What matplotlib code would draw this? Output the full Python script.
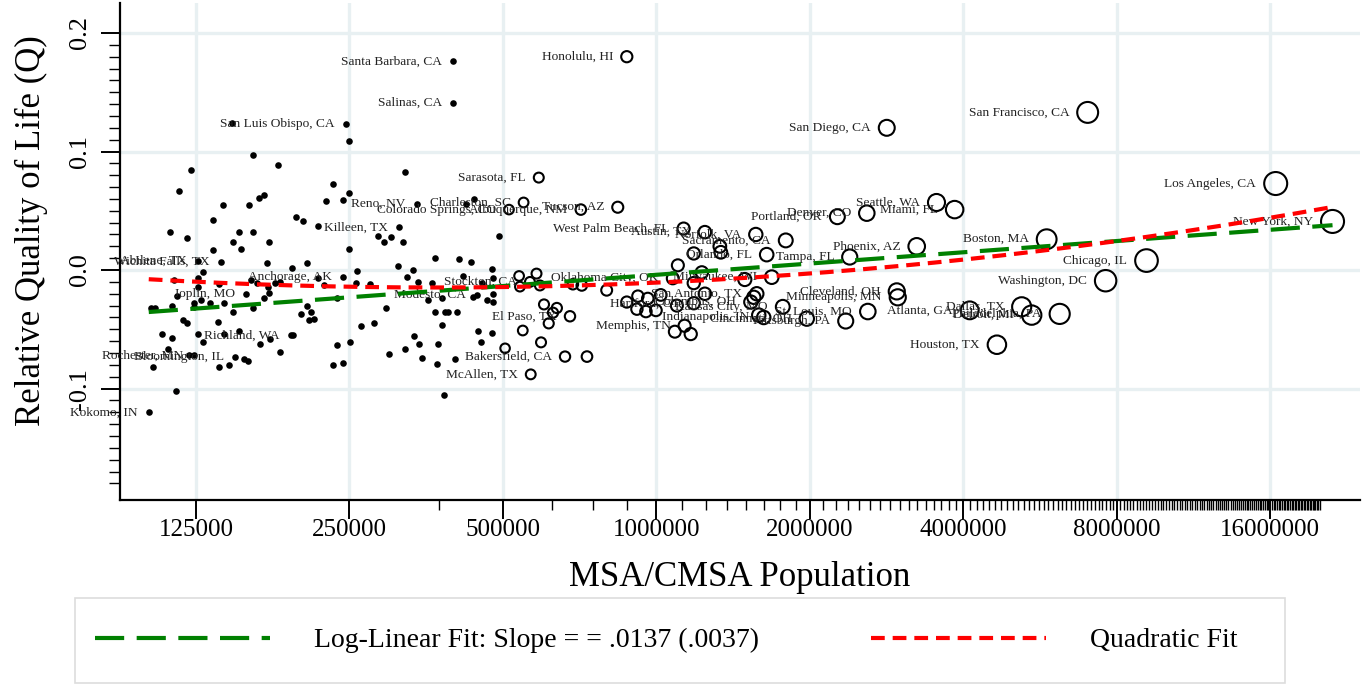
import numpy as np
import matplotlib
matplotlib.use("Agg")
import matplotlib.pyplot as plt
from matplotlib.lines import Line2D
from matplotlib.patches import Rectangle
from matplotlib.ticker import NullFormatter

plt.rcParams['font.family'] = ['Liberation Serif', 'DejaVu Serif']

# unlabeled metro areas: population (thousands), relative quality of life
other_pop = [103, 102, 104, 107, 110, 111, 112, 112, 113, 114, 115, 116, 118, 120, 120, 121, 122,
             124, 124, 126, 126, 126, 128, 129, 129, 133, 135, 135, 138, 139, 139, 141, 142, 142,
             145, 147, 148, 148, 152, 152, 153, 155, 158, 159, 160, 162, 162, 162, 165, 166, 167,
             170, 170, 172, 173, 174, 174, 175, 179, 181, 183, 183, 193, 194, 196, 201, 203, 206,
             206, 208, 210, 213, 217, 217, 223, 225, 232, 232, 236, 236, 243, 243, 249, 250, 250,
             251, 258, 259, 263, 274, 279, 284, 292, 295, 299, 302, 311, 318, 321, 321, 324, 333,
             334, 341, 342, 347, 356, 363, 368, 368, 372, 373, 380, 380, 383, 385, 390, 402, 406,
             410, 417, 423, 433, 437, 439, 447, 453, 455, 465, 478, 478, 476, 478, 476, 491,
             505, 538, 540, 547, 582, 591, 594, 602, 615, 627, 638, 686, 714, 731, 799, 875, 916,
             920, 954, 962, 998, 1020, 1087, 1097, 1102, 1168, 1184, 1184, 1228, 1245, 1332, 1338,
             1491, 1553, 1588]
other_q = [-0.082, -0.032, -0.032, -0.054, -0.067, 0.032, -0.030, -0.057, -0.008, -0.102, -0.022,
           0.067, -0.042, -0.045, 0.027, -0.072, 0.084, -0.028, -0.031, -0.054, -0.007, -0.014,
           -0.025, -0.002, -0.061, -0.028, 0.042, 0.017, -0.044, -0.082, -0.012, 0.055, -0.028,
           -0.054, -0.080, 0.124, -0.035, 0.024, 0.032, -0.051, 0.018, -0.075, -0.077, 0.055,
           -0.008, 0.097, -0.032, 0.032, -0.011, 0.061, -0.062, 0.063, -0.024, 0.006, -0.014,
           0.024, -0.019, -0.058, -0.011, 0.089, -0.010, -0.069, 0.002, -0.055, 0.045, -0.037,
           0.041, 0.006, -0.030, -0.042, -0.035, -0.041, -0.007, 0.037, -0.013, 0.058, 0.073,
           -0.080, -0.024, -0.063, 0.059, -0.078, 0.018, 0.109, 0.065, -0.061, -0.011, -0.001,
           -0.047, -0.012, -0.045, 0.029, 0.024, -0.032, -0.071, 0.028, 0.003, 0.024, 0.083,
           -0.067, -0.006, 0.000, -0.056, -0.010, -0.062, -0.074, -0.025, -0.011, 0.010, -0.035,
           -0.079, -0.062, -0.024, -0.046, -0.105, -0.035, -0.035, -0.075, -0.035, 0.009, -0.005,
           0.056, 0.007, -0.023, 0.060, -0.051, -0.061, -0.011, -0.025, -0.027, -0.020, 0.001,
           -0.007, -0.053, 0.029,
           -0.066, -0.005, -0.014, -0.051, -0.003, -0.013, -0.061, -0.029, -0.045, -0.036, -0.032,
           -0.012, -0.013, -0.073, -0.017, -0.027, -0.033, -0.022, -0.035, -0.024, -0.034, -0.021,
           -0.052, -0.030, 0.004, -0.054, 0.014, -0.011, -0.002, -0.020, 0.020, 0.015, -0.008,
           -0.023, -0.038]

# labeled metro areas
city_names = ["Kokomo, IN", "Rochester, MN", "Abilene, TX", "Wichita Falls, TX", "Bloomington, IL",
              "Joplin, MO", "Richland, WA", "Anchorage, AK", "San Luis Obispo, CA", "Killeen, TX",
              "Reno, NV", "Santa Barbara, CA", "Salinas, CA", "Modesto, CA", "Colorado Springs, CO",
              "Charleston, SC", "Stockton, CA", "McAllen, TX", "Sarasota, FL", "Bakersfield, CA",
              "El Paso, TX", "Albuquerque, NM", "Tucson, AZ", "Honolulu, HI", "Oklahoma City, OK",
              "West Palm Beach, FL", "Memphis, TN", "Hartford, CT", "Austin, TX", "Columbus, OH",
              "Norfolk, VA", "San Antonio, TX", "Indianapolis, IN", "Orlando, FL", "Milwaukee, WI",
              "Kansas City, MO", "Sacramento, CA", "Cincinnati, OH", "Portland, OR", "Pittsburgh, PA",
              "Tampa, FL", "Denver, CO", "St. Louis, MO", "San Diego, CA", "Cleveland, OH",
              "Minneapolis, MN", "Phoenix, AZ", "Seattle, WA", "Miami, FL", "Atlanta, GA",
              "Houston, TX", "Dallas, TX", "Detroit, MI", "Boston, MA", "Philadelphia, PA",
              "San Francisco, CA", "Washington, DC", "Chicago, IL", "Los Angeles, CA", "New York, NY"]
city_pop = [101, 124, 126, 140, 149, 157, 192, 243, 246, 313, 339, 399, 400, 445, 514, 549, 565,
            567, 588, 662, 677, 711, 840, 875, 1077, 1131, 1136, 1184, 1245, 1532, 1567, 1574, 1624,
            1646, 1684, 1770, 1794, 1973, 2265, 2352, 2395, 2587, 2599, 2831, 2962, 2975, 3241,
            3544, 3847, 4118, 4656, 5207, 5448, 5829, 6182, 7015, 7608, 9150, 16400, 21200]
city_q = [-0.120, -0.072, 0.008, 0.007, -0.073, -0.020, -0.055, -0.006, 0.123, 0.036, 0.056, 0.176,
          0.141, -0.021, 0.051, 0.057, -0.010, -0.088, 0.078, -0.073, -0.039, 0.051, 0.053, 0.180,
          -0.007, 0.035, -0.047, -0.028, 0.032, -0.027, 0.030, -0.020, -0.040, 0.013, -0.006,
          -0.031, 0.025, -0.041, 0.045, -0.043, 0.011, 0.048, -0.035, 0.120, -0.018, -0.023, 0.020,
          0.057, 0.051, -0.034, -0.063, -0.031, -0.038, 0.026, -0.037, 0.133, -0.009, 0.008, 0.073,
          0.041]

# fits: Q on ln(pop), and quadratic in log2(pop / 1e6)
loglin_icpt, loglin_slope = -0.0040, 0.0137
quad_coef = [0.00199, 0.00572, -0.0106]

x_major = [125000, 250000, 500000, 1000000, 2000000, 4000000, 8000000, 16000000]

pop_all = np.array(other_pop + city_pop) * 1000.0
q_all = np.array(other_q + city_q)


def radius_px(p):
    # point radius in pixels; small places are plain dots
    if p < 500000:
        return 3.3
    return min(5.0 * (p / 600000.0) ** 0.3, 11.5)


W, H = 1367, 685
fig = plt.figure(figsize=(13.67, 6.85), dpi=100)
ax = fig.add_axes([120 / W, 1 - 500 / H, 1240 / W, 497 / H])
ax.set_xscale('log')
ax.set_xlim(88700, 24.0e6)
ax.set_ylim(-0.194, 0.2253)

for s in ['top', 'right']:
    ax.spines[s].set_visible(False)
for s in ['left', 'bottom']:
    ax.spines[s].set_linewidth(1.6)

ax.grid(True, which='major', color='#e8f0f2', linewidth=2.4, zorder=0)
ax.set_axisbelow(True)

small = pop_all < 500000
ax.scatter(pop_all[small], q_all[small], s=(2 * 3.3 * 0.72) ** 2, color='black',
           linewidths=0, zorder=3)
big = ~small
sizes = np.array([(2 * radius_px(p) * 0.72) ** 2 for p in pop_all[big]])
ax.scatter(pop_all[big], q_all[big], s=sizes, facecolors='none', edgecolors='black',
           linewidths=1.5, zorder=3)

for name, p, q in zip(city_names, city_pop, city_q):
    r = radius_px(p * 1000.0)
    ax.annotate(name, (p * 1000.0, q), xytext=(-(r + 8) * 0.72, 0), textcoords='offset points',
                ha='right', va='center', fontsize=9.6, color='#222222', zorder=4)

xs = np.exp(np.linspace(np.log(pop_all.min()), np.log(pop_all.max()), 200))
y_lin = loglin_icpt + loglin_slope * np.log(xs / 1e6)
y_quad = np.polyval(quad_coef, np.log2(xs / 1e6))
ax.plot(xs, y_lin, color='#008000', linewidth=3, dashes=(7, 3), zorder=5)
ax.plot(xs, y_quad, color='#ff0000', linewidth=3, dashes=(3.3, 1.9), zorder=5)

ax.set_xticks(x_major)
ax.set_xticklabels([str(v) for v in x_major])
minor = [v for v in range(375000, 20000001, 125000) if v not in x_major]
ax.set_xticks(minor, minor=True)
ax.xaxis.set_minor_formatter(NullFormatter())
ax.tick_params(axis='x', which='major', length=14, width=1.4, labelsize=18, pad=0)
ax.tick_params(axis='x', which='minor', length=7, width=1.0)

ax.set_yticks([-0.1, 0.0, 0.1, 0.2])
ax.set_yticklabels(['-0.1', '0.0', '0.1', '0.2'], rotation=90, va='center')
ax.set_yticks([v / 100 for v in range(-18, 21)], minor=True)
ax.tick_params(axis='y', which='major', length=14, width=1.4, labelsize=19, pad=7)
ax.tick_params(axis='y', which='minor', length=8, width=1.0)

ax.set_xlabel('MSA/CMSA Population', fontsize=25, labelpad=14)
ax.set_ylabel('Relative Quality of Life (Q)', fontsize=25)
ax.yaxis.set_label_coords(-0.058, 0.543)

# legend box drawn separately so the entries can sit where the original has them
fig.add_artist(Rectangle((75 / W, 2 / H), 1210 / W, 85 / H, transform=fig.transFigure,
                         fill=False, edgecolor='#dddddd', linewidth=1.2))
handles = [Line2D([], [], color='#008000', linewidth=3, dashes=(7, 3)),
           Line2D([], [], color='#ff0000', linewidth=3, dashes=(3.3, 1.9))]
fig.legend(handles, ['Log-Linear Fit: Slope = = .0137 (.0037)', 'Quadratic Fit'],
           loc='center', bbox_to_anchor=(95 / W, 2 / H, 1143 / W, 85 / H),
           mode='expand', ncol=2, fontsize=20, handlelength=6.3, handletextpad=1.6,
           columnspacing=4, frameon=False, borderpad=0, borderaxespad=0)

fig.savefig('out.png', dpi=100)
